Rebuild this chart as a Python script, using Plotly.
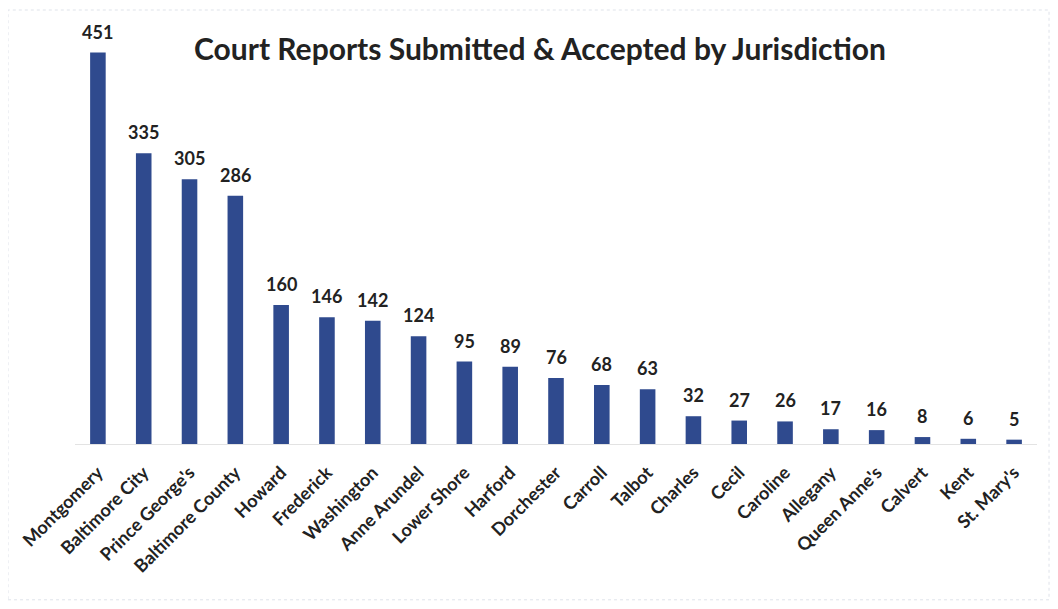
import plotly.graph_objects as go

jurisdictions = ["Montgomery", "Baltimore City", "Prince George's", "Baltimore County",
                 "Howard", "Frederick", "Washington", "Anne Arundel", "Lower Shore",
                 "Harford", "Dorchester", "Carroll", "Talbot", "Charles", "Cecil",
                 "Caroline", "Allegany", "Queen Anne's", "Calvert", "Kent", "St. Mary's"]
reports = [451, 335, 305, 286, 160, 146, 142, 124, 95, 89, 76, 68, 63, 32, 27, 26, 17, 16, 8, 6, 5]

title_text = "Court Reports Submitted & Accepted by Jurisdiction"

fig = go.Figure(go.Bar(
    x=jurisdictions, y=reports,
    marker=dict(color="#2f4a8e", line=dict(width=0)),
    cliponaxis=False,
))

value_labels = [dict(x=j, y=v, xref="x", yref="y", text="<b>%d</b>" % v,
                     showarrow=False, yanchor="bottom", xanchor="center", yshift=8,
                     font=dict(family="Lato", size=18, color="#222222"))
                for j, v in zip(jurisdictions, reports)]

fig.update_layout(
    width=1042, height=593,
    margin=dict(l=67, r=13, t=2, b=157),
    paper_bgcolor="white", plot_bgcolor="white",
    bargap=0.66,
    showlegend=False,
    font=dict(family="Lato", color="#222222"),
    xaxis=dict(tickangle=-45, tickfont=dict(family="Lato", size=18, color="#222222"),
               tickvals=jurisdictions, ticktext=["<b>" + j + "</b>" for j in jurisdictions],
               automargin=False,
               showline=True, linecolor="#e3e3e3", linewidth=1,
               ticks="outside", ticklen=10, tickcolor="rgba(0,0,0,0)", showgrid=False),
    yaxis=dict(range=[0, 500], visible=False, showgrid=False, automargin=False),
    annotations=value_labels + [dict(text="<b>" + title_text.replace("&", "&amp;") + "</b>",
                      xref="paper", yref="paper", x=0.483, y=0.912, xanchor="center",
                      yanchor="middle", showarrow=False,
                      font=dict(family="Lato", size=30, color="#222222"))],
    shapes=[dict(type="rect", xref="paper", yref="paper",
                 x0=-0.0696, x1=1.0125, y0=-0.359, y1=1.0,
                 line=dict(color="#dfe3ea", width=1, dash="dot"))],
)

fig.write_html("out.html")
